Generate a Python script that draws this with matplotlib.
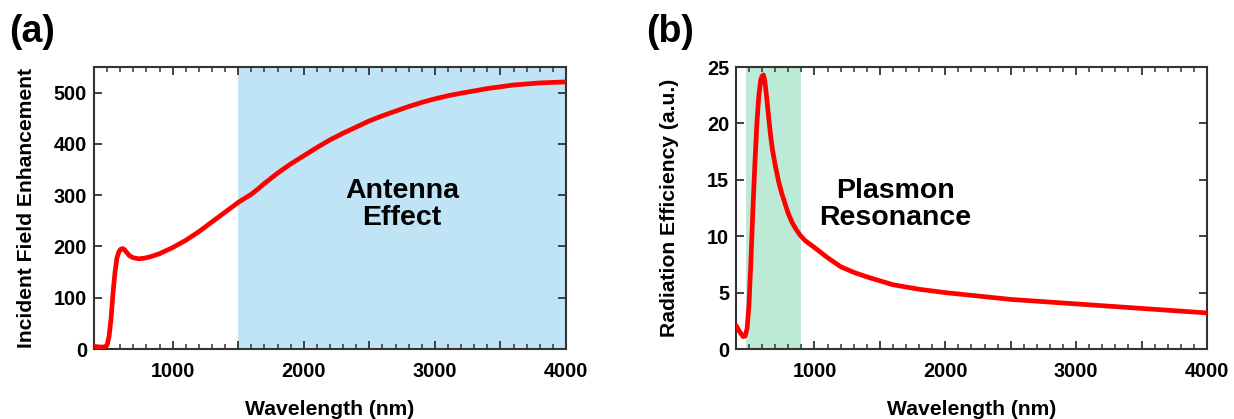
import matplotlib.pyplot as plt
from matplotlib.ticker import MultipleLocator

plt.rcParams['font.family'] = ['Liberation Sans', 'DejaVu Sans']
plt.rcParams['font.weight'] = 'bold'

# === Panel (a): incident field enhancement ===
wl_a = [400, 450, 480, 500, 515, 530, 545, 560, 575, 590, 605, 620, 635, 650,
        670, 700, 740, 780, 830, 900, 1000, 1100, 1200, 1300, 1400, 1500,
        1550, 1600, 1650, 1700, 1800, 1900, 2000, 2100, 2200, 2300, 2400,
        2500, 2600, 2700, 2800, 2900, 3000, 3100, 3200, 3400, 3600, 3800, 4000]
enh_a = [5, 4, 4, 8, 25, 60, 110, 150, 178, 190, 195, 196, 193, 188,
         182, 178, 176, 177, 180, 186, 198, 212, 229, 248, 267, 286,
         294, 302, 312, 323, 343, 361, 377, 393, 408, 421, 433,
         445, 455, 464, 473, 481, 488, 494, 499, 508, 515, 519, 521]
antenna_span = (1500, 4000)

# === Panel (b): radiation efficiency ===
wl_b = [400, 430, 455, 470, 485, 500, 515, 530, 545, 560, 575, 590, 600, 610,
        620, 635, 650, 665, 680, 700, 725, 750, 775, 800, 830, 860, 890, 930,
        1000, 1100, 1200, 1300, 1400, 1600, 1800, 2000, 2500, 3000, 3500, 4000]
eff_b = [2.1, 1.5, 1.1, 1.15, 1.8, 4.0, 8.0, 12.5, 16.5, 20.0, 22.5, 23.9, 24.2, 24.3,
         23.8, 22.3, 20.5, 18.9, 17.6, 16.3, 14.9, 13.8, 12.9, 12.0, 11.2, 10.6, 10.1, 9.6,
         9.0, 8.1, 7.3, 6.8, 6.4, 5.7, 5.3, 5.0, 4.4, 4.0, 3.6, 3.2]
plasmon_span = (480, 900)

fig = plt.figure(figsize=(12.34, 4.19), dpi=100)
ax1 = fig.add_axes([0.0762, 0.167, 0.3825, 0.673])
ax2 = fig.add_axes([0.5964, 0.167, 0.3817, 0.673])

spine_col = '#333333'


def style_axes(ax):
    for s in ax.spines.values():
        s.set_color(spine_col)
        s.set_linewidth(1.5)
    ax.tick_params(which='both', direction='in', top=True, right=True,
                   colors=spine_col, labelcolor='black', labelsize=14.3)
    ax.tick_params(which='major', length=6, width=1.3)
    ax.tick_params(which='minor', length=3.5, width=1.1)
    ax.tick_params(axis='x', which='major', pad=9)
    ax.tick_params(axis='y', which='major', pad=5)
    ax.set_xticks([1000, 1500, 2000, 2500, 3000, 3500, 4000])
    ax.set_xticklabels(['1000', '', '2000', '', '3000', '', '4000'])
    ax.xaxis.set_minor_locator(MultipleLocator(100))
    ax.set_xlabel('Wavelength (nm)', fontsize=15.2, fontweight='bold', labelpad=14)
    for lab in ax.get_xticklabels() + ax.get_yticklabels():
        lab.set_fontweight('bold')


# (a)
ax1.axvspan(*antenna_span, color='#bfe4f5', lw=0, zorder=0)
ax1.plot(wl_a, enh_a, color='#ff0000', lw=3.4, solid_capstyle='round', zorder=3)
ax1.set_xlim(400, 4000)
ax1.set_ylim(0, 550)
ax1.yaxis.set_major_locator(MultipleLocator(100))
ax1.set_ylabel('Incident Field Enhancement', fontsize=15.2, fontweight='bold', labelpad=13)
style_axes(ax1)
ax1.text(2750, 281, 'Antenna\nEffect', ha='center', va='center',
         fontsize=20.5, fontweight='bold', linespacing=1.05)
fig.text(0.007, 0.967, '(a)', fontsize=27, fontweight='bold', va='top')

# (b)
ax2.axvspan(*plasmon_span, color='#bde9d7', lw=0, zorder=0)
ax2.plot(wl_b, eff_b, color='#ff0000', lw=3.4, solid_capstyle='round', zorder=3)
ax2.set_xlim(400, 4000)
ax2.set_ylim(0, 25)
ax2.yaxis.set_major_locator(MultipleLocator(5))
ax2.set_ylabel('Radiation Efficiency (a.u.)', fontsize=15.2, fontweight='bold', labelpad=20)
style_axes(ax2)
ax2.text(1620, 12.8, 'Plasmon\nResonance', ha='center', va='center',
         fontsize=20.5, fontweight='bold', linespacing=1.05)
fig.text(0.524, 0.967, '(b)', fontsize=27, fontweight='bold', va='top')

fig.savefig('out.png', dpi=100)
